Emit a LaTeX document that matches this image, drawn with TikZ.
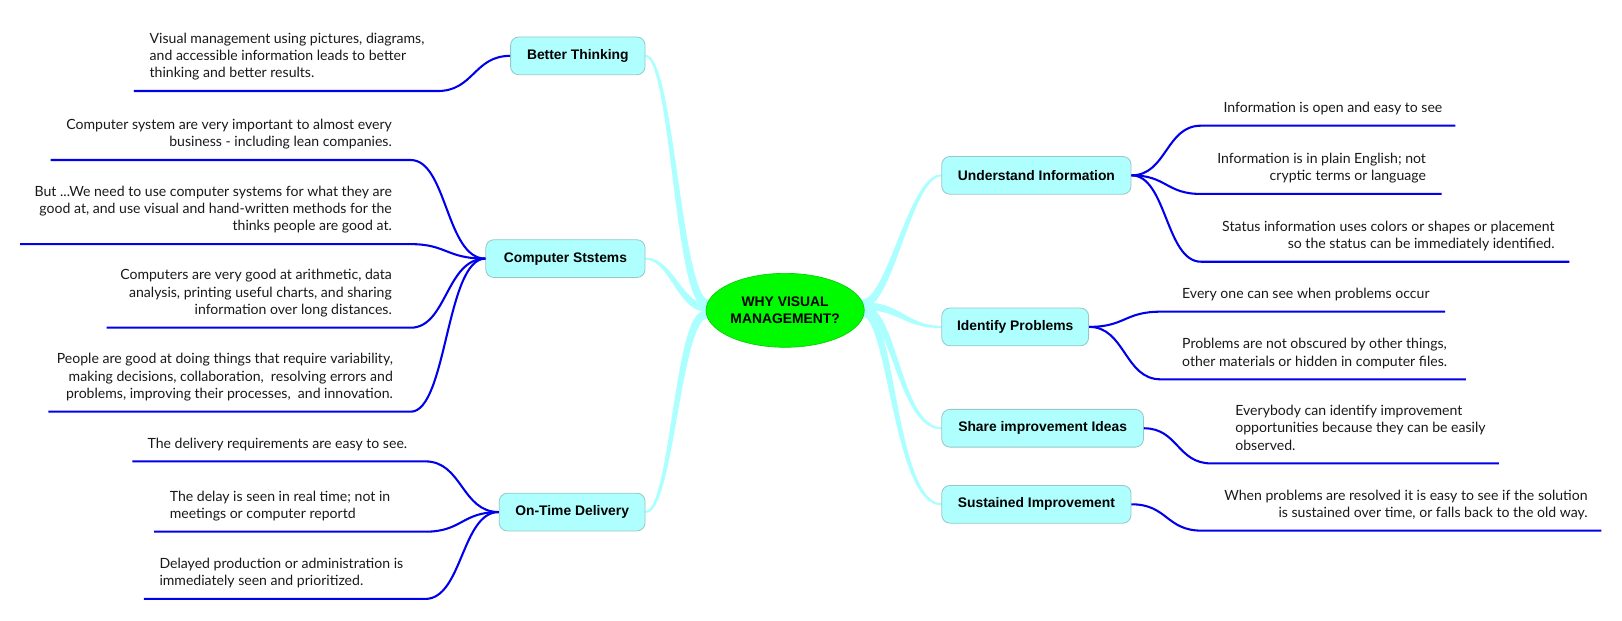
\documentclass[tikz,border=0pt]{standalone}
\usepackage{fontspec}
\newfontfamily\boxfont{Liberation Sans}
\newfontfamily\leaffont{Lato}
\definecolor{boxfill}{RGB}{175,255,255}
\definecolor{boxline}{RGB}{150,200,200}
\definecolor{branchcyan}{RGB}{172,255,255}
\definecolor{ellfill}{RGB}{0,250,0}
\definecolor{ellline}{RGB}{0,205,0}
\definecolor{leafblue}{RGB}{0,0,235}
\definecolor{leafgray}{RGB}{25,25,25}
\pgfdeclarelayer{background}
\pgfsetlayers{background,main}
\tikzset{
  branchbox/.style={draw=boxline, fill=boxfill, rounded corners=8pt, line width=0.8pt,
    minimum height=36.5pt, inner xsep=0pt,
    font=\boxfont\bfseries\fontsize{13.4}{15.8}\selectfont, text=black},
  centre/.style={ellipse, draw=ellline, fill=ellfill, line width=0.6pt,
    minimum width=153pt, minimum height=71.5pt, inner sep=0pt, align=center,
    font=\boxfont\bfseries\fontsize{13.4}{15.8}\selectfont, text=black},
  leaftext/.style={inner sep=0pt, font=\leaffont\fontsize{13.6}{16.8}\selectfont, text=leafgray},
  leafline/.style={draw=leafblue, line width=2pt},
}
\usetikzlibrary{shapes.geometric}
% tapered cyan branch between two anchors
\newcommand\taperbranch[6]{%
  \foreach \k in {0,...,19}{%
    \pgfmathsetmacro\ta{\k/20}%
    \pgfmathsetmacro\tb{(\k+1)/20}%
    \pgfmathsetmacro\lw{8-6*\k/19}%
    \pgfsetlinewidth{\lw pt}%
    \pgfpathcurvebetweentime{\ta}{\tb}%
      {\pgfpointanchor{#1}{#2}}%
      {\pgfpointadd{\pgfpointanchor{#1}{#2}}{\pgfpoint{#5pt}{0pt}}}%
      {\pgfpointadd{\pgfpointanchor{#3}{#4}}{\pgfpoint{#6pt}{0pt}}}%
      {\pgfpointanchor{#3}{#4}}%
    \pgfusepath{stroke}%
  }}
\begin{document}
\begin{tikzpicture}[x=1pt,y=-1pt]
\useasboundingbox (0,0) rectangle (1568,599.4);

% centre
\node[centre] (ctr) at (759,300) {WHY VISUAL\\MANAGEMENT?};

% branch boxes
\node[branchbox, anchor=east, minimum width=130pt] (bt) at (624,54) {Better Thinking};
\node[branchbox, anchor=east, minimum width=154pt] (cs) at (624,250) {Computer Ststems};
\node[branchbox, anchor=east, minimum width=141pt] (ot) at (624,495) {On-Time Delivery};
\node[branchbox, anchor=west, minimum width=183pt] (ui) at (910,169.5) {Understand Information};
\node[branchbox, anchor=west, minimum width=142pt] (ip) at (910,316) {Identify Problems};
\node[branchbox, anchor=west, minimum width=195pt] (si) at (910,414) {Share improvement Ideas};
\node[branchbox, anchor=west, minimum width=183pt] (su) at (910,487.5) {Sustained Improvement};

% cyan tapered branches
\begin{pgfonlayer}{background}
\begin{scope}
  \pgfsetstrokecolor{branchcyan}
  \pgfsetroundcap
  \taperbranch{ctr}{175}{bt}{east}{-28}{26}
  \taperbranch{ctr}{178}{cs}{east}{-25}{25}
  \taperbranch{ctr}{183}{ot}{east}{-28}{26}
  \taperbranch{ctr}{5}{ui}{west}{26}{-30}
  \taperbranch{ctr}{3}{ip}{west}{35}{-35}
  \taperbranch{ctr}{0}{si}{west}{28}{-40}
  \taperbranch{ctr}{-2}{su}{west}{26}{-45}
\end{scope}
\end{pgfonlayer}

% leaf line end points
\coordinate (btA) at (423,88);   \coordinate (btB) at (129.5,88);
\coordinate (csaA) at (397,154.7); \coordinate (csaB) at (49,154.7);
\coordinate (csbA) at (397,236);   \coordinate (csbB) at (19.5,236);
\coordinate (cscA) at (397,316.8); \coordinate (cscB) at (103,316.8);
\coordinate (csdA) at (397,398);   \coordinate (csdB) at (46.8,398);
\coordinate (otaA) at (411,446);   \coordinate (otaB) at (128,446);
\coordinate (otbA) at (411,514);   \coordinate (otbB) at (149,514);
\coordinate (otcA) at (411,579);   \coordinate (otcB) at (139,579);
\coordinate (uiaA) at (1161,121.5); \coordinate (uiaB) at (1407,121.5);
\coordinate (uibA) at (1161,187.5); \coordinate (uibB) at (1393.6,187.5);
\coordinate (uicA) at (1161,253);   \coordinate (uicB) at (1517,253);
\coordinate (ipaA) at (1122,301.3); \coordinate (ipaB) at (1397,301.3);
\coordinate (ipbA) at (1122,366.7); \coordinate (ipbB) at (1417,366.7);
\coordinate (siA) at (1171,448);    \coordinate (siB) at (1449,448);
\coordinate (suA) at (1162,513);    \coordinate (suB) at (1548,513);

% blue leaf connectors
\draw[leafline] (bt.west) .. controls +(-35,0) and +(35,0) .. (btA) -- (btB);
\draw[leafline] (cs.west) .. controls +(-38,0) and +(35,0) .. (csaA) -- (csaB);
\draw[leafline] (cs.west) .. controls +(-38,0) and +(35,0) .. (csbA) -- (csbB);
\draw[leafline] (cs.west) .. controls +(-38,0) and +(35,0) .. (cscA) -- (cscB);
\draw[leafline] (cs.west) .. controls +(-38,0) and +(35,0) .. (csdA) -- (csdB);
\draw[leafline] (ot.west) .. controls +(-36,0) and +(36,0) .. (otaA) -- (otaB);
\draw[leafline] (ot.west) .. controls +(-36,0) and +(36,0) .. (otbA) -- (otbB);
\draw[leafline] (ot.west) .. controls +(-36,0) and +(36,0) .. (otcA) -- (otcB);
\draw[leafline] (ui.east) .. controls +(34,0) and +(-34,0) .. (uiaA) -- (uiaB);
\draw[leafline] (ui.east) .. controls +(34,0) and +(-34,0) .. (uibA) -- (uibB);
\draw[leafline] (ui.east) .. controls +(34,0) and +(-34,0) .. (uicA) -- (uicB);
\draw[leafline] (ip.east) .. controls +(35,0) and +(-35,0) .. (ipaA) -- (ipaB);
\draw[leafline] (ip.east) .. controls +(35,0) and +(-35,0) .. (ipbA) -- (ipbB);
\draw[leafline] (si.east) .. controls +(33,0) and +(-33,0) .. (siA) -- (siB);
\draw[leafline] (su.east) .. controls +(35,0) and +(-35,0) .. (suA) -- (suB);

% leaf texts
\node[leaftext, anchor=south west, align=left] (tbt) at (144.5,80.5)
  {Visual management using pictures, diagrams,\\and accessible information leads to better\\thinking and better results.\strut};
\node[leaftext, anchor=south east, align=right] (tcsa) at (379,147.2)
  {Computer system are very important to almost every\\business - including lean companies.\strut};
\node[leaftext, anchor=south east, align=right] (tcsb) at (379,228.5)
  {But ...We need to use computer systems for what they are\\good at, and use visual and hand-written methods for the\\thinks people are good at.\strut};
\node[leaftext, anchor=south east, align=right] (tcsc) at (379,309.3)
  {Computers are very good at arithmetic, data\\analysis, printing useful charts, and sharing\\information over long distances.\strut};
\node[leaftext, anchor=south east, align=right] (tcsd) at (380,390.5)
  {People are good at doing things that require variability,\\making decisions, collaboration,\ \ resolving errors and\\problems, improving their processes,\ \ and innovation.\strut};
\node[leaftext, anchor=south west, align=left] (tota) at (142.5,438.5)
  {The delivery requirements are easy to see.\strut};
\node[leaftext, anchor=south west, align=left] (totb) at (164,506.5)
  {The delay is seen in real time; not in\\meetings or computer reportd\strut};
\node[leaftext, anchor=south west, align=left] (totc) at (154,571.5)
  {Delayed production or administration is\\immediately seen and prioritized.\strut};
\node[leaftext, anchor=south west, align=left] (tuia) at (1182.6,114)
  {Information is open and easy to see\strut};
\node[leaftext, anchor=south east, align=right] (tuib) at (1378.7,180)
  {Information is in plain English; not\\cryptic terms or language\strut};
\node[leaftext, anchor=south east, align=right] (tuic) at (1503,245.5)
  {Status information uses colors or shapes or placement\\so the status can be immediately identified.\strut};
\node[leaftext, anchor=south west, align=left] (tipa) at (1142.6,293.8)
  {Every one can see when problems occur\strut};
\node[leaftext, anchor=south west, align=left] (tipb) at (1142.6,359.2)
  {Problems are not obscured by other things,\\other materials or hidden in computer files.\strut};
\node[leaftext, anchor=south west, align=left] (tsi) at (1194,440.5)
  {Everybody can identify improvement\\opportunities because they can be easily\\observed.\strut};
\node[leaftext, anchor=south east, align=right] (tsu) at (1535,505.5)
  {When problems are resolved it is easy to see if the solution\\is sustained over time, or falls back to the old way.\strut};
\end{tikzpicture}
\end{document}
